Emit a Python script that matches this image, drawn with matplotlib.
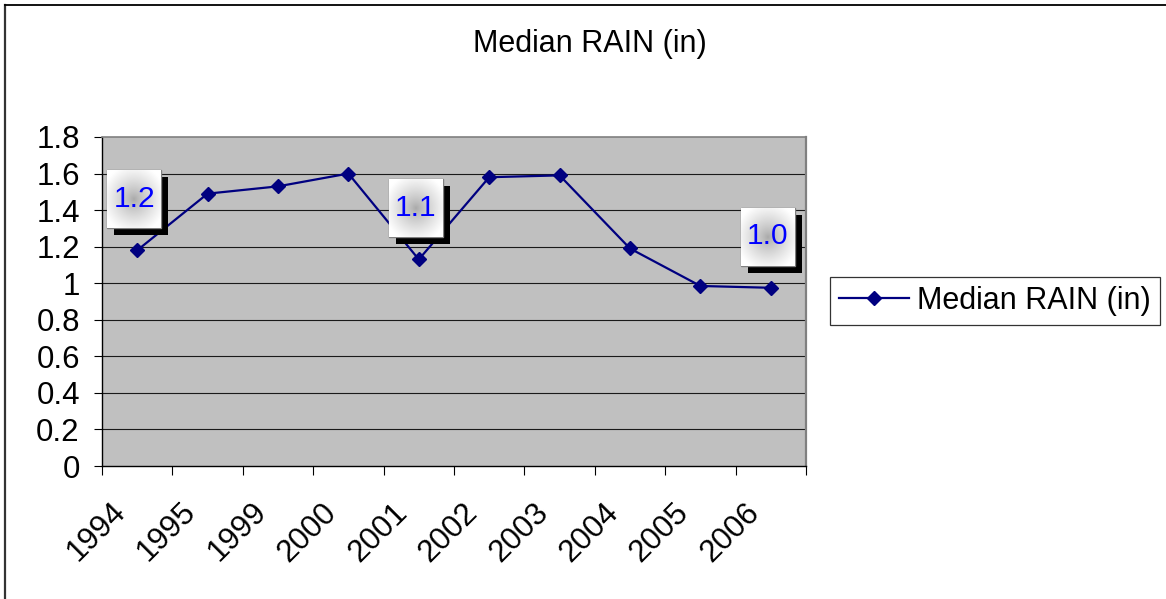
import numpy as np
import matplotlib
matplotlib.use("Agg")
import matplotlib.pyplot as plt
from matplotlib.lines import Line2D
from matplotlib.offsetbox import OffsetImage, AnnotationBbox
from matplotlib.transforms import ScaledTranslation

# ---- data ----
years = ["1994", "1995", "1999", "2000", "2001", "2002", "2003", "2004", "2005", "2006"]
median_rain = [1.18, 1.49, 1.53, 1.60, 1.13, 1.58, 1.59, 1.19, 0.985, 0.975]
labeled_idx = [0, 4, 9]
series_name = "Median RAIN (in)"
title = "Median RAIN (in)"
yticks = [0, 0.2, 0.4, 0.6, 0.8, 1, 1.2, 1.4, 1.6, 1.8]
ytick_labels = ["0", "0.2", "0.4", "0.6", "0.8", "1", "1.2", "1.4", "1.6", "1.8"]

plt.rcParams["font.family"] = ["Liberation Sans", "DejaVu Sans"]

W, H = 1166, 599
fig = plt.figure(figsize=(W / 100, H / 100), dpi=100)
fig.patch.set_facecolor("white")

L, R, T, B = 102, 806, 137, 466
ax = fig.add_axes([L / W, 1 - B / H, (R - L) / W, (B - T) / H])
ax.set_facecolor("#C0C0C0")

x = np.arange(len(years))
line, = ax.plot(x, median_rain, color="#000080", lw=1.6, marker="D",
                markersize=7.5, markerfacecolor="#000080", markeredgecolor="#000080",
                zorder=3, label=series_name)

ax.set_xlim(-0.5, len(years) - 0.5)
ax.set_ylim(0, 1.8)

# gridlines
for yv in yticks[1:-1]:
    ax.axhline(yv, color="#1a1a1a", lw=0.8, zorder=1)

ax.set_yticks(yticks)
ax.set_yticklabels(ytick_labels)
ax.tick_params(axis="y", direction="out", length=6, width=0.8, color="black",
               labelsize=22.5, pad=10)

ax.set_xticks(x)
ax.set_xticklabels(years, rotation=45, ha="right", va="center", rotation_mode="anchor")
ax.set_xticks(np.arange(-0.5, len(years)), minor=True)
ax.tick_params(axis="x", which="major", length=0, labelsize=22.5, pad=30)
ax.tick_params(axis="x", which="minor", direction="out", length=6.5, width=0.8, color="black")
off = ScaledTranslation(-16 / 100, 0, fig.dpi_scale_trans)
for lab in ax.get_xticklabels():
    lab.set_transform(lab.get_transform() + off)

for s in ["left", "bottom"]:
    ax.spines[s].set_color("black")
    ax.spines[s].set_linewidth(1.0)
ax.spines["top"].set_color("#808080")
ax.spines["top"].set_linewidth(1.2)
ax.spines["right"].set_color("#808080")
ax.spines["right"].set_linewidth(1.6)

# data labels with gradient box and shadow
bw, bh = 54, 58
yy, xx = np.mgrid[-1:1:bh * 1j, -1:1:bw * 1j]
d = np.clip(np.sqrt(xx ** 2 + yy ** 2) / 1.2, 0, 1)
g = 0.66 + (1.0 - 0.66) * d ** 0.8
grad = np.dstack([g, g, g])
shadow = np.zeros((bh, bw, 3))
dx_pt, dy_pt = -2.2, 36.7
sh_pt = 5.0
for i in labeled_idx:
    v = median_rain[i]
    sb = AnnotationBbox(OffsetImage(shadow, zoom=1, dpi_cor=False), (x[i], v),
                        xybox=(dx_pt + sh_pt, dy_pt - sh_pt), xycoords="data",
                        boxcoords="offset points", frameon=False, pad=0, zorder=5)
    ax.add_artist(sb)
    gb = AnnotationBbox(OffsetImage(grad, zoom=1, dpi_cor=False), (x[i], v),
                        xybox=(dx_pt, dy_pt), xycoords="data",
                        boxcoords="offset points", frameon=True, pad=0, zorder=6,
                        bboxprops=dict(edgecolor="#808080", lw=1.0))
    ax.add_artist(gb)
    ax.annotate(f"{v:.1f}", (x[i], v), xytext=(dx_pt, dy_pt + 0.5),
                textcoords="offset points", ha="center", va="center",
                fontsize=21.5, color="#0000FF", zorder=7, annotation_clip=False)

# title
fig.text(590 / W, 1 - 44 / H, title, ha="center", va="center", fontsize=22)

# legend
leg = fig.legend(handles=[line], loc="center left",
                 bbox_to_anchor=(830 / W, 1 - 301 / H), fontsize=22,
                 frameon=True, fancybox=False, handlelength=2.3, handletextpad=0.25,
                 borderpad=0.3, borderaxespad=0)
leg.get_frame().set_edgecolor("black")
leg.get_frame().set_linewidth(0.9)

# outer chart border
fig.add_artist(Line2D([5 / W, 5 / W], [0, 1 - 5 / H], transform=fig.transFigure,
                      color="#333333", lw=1.6))
fig.add_artist(Line2D([5 / W, 1], [1 - 5 / H, 1 - 5 / H], transform=fig.transFigure,
                      color="black", lw=1.3))

fig.savefig("out.png", dpi=100)
